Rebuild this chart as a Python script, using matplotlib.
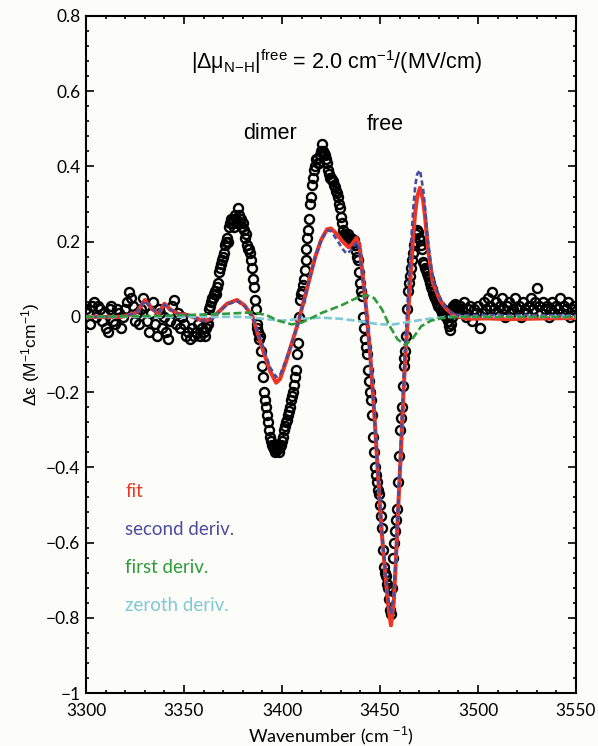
import numpy as np
import matplotlib.pyplot as plt
from matplotlib.ticker import MultipleLocator, FuncFormatter

plt.rcParams['font.family'] = ['Lato', 'DejaVu Sans']
plt.rcParams['mathtext.fontset'] = 'custom'
plt.rcParams['mathtext.rm'] = 'Liberation Sans'
plt.rcParams['mathtext.it'] = 'Liberation Sans:italic'

# measured spectrum (open circles)
wn_left = np.arange(3300, 3360, 1.0)
de_left = [0.02, 0.01, -0.02, 0.03, 0.04, 0.0, 0.03, 0.02, -0.01, 0.01,
           -0.03, -0.04, 0.02, 0.03, -0.01, -0.02, 0.02, 0.01, -0.03, 0.0,
           0.02, 0.04, 0.065, 0.05, 0.03, -0.01, 0.01, -0.02, 0.02, 0.05,
           0.03, -0.01, -0.04, 0.01, 0.04, -0.02, -0.05, 0.02, 0.01, -0.03,
           0.0, -0.04, -0.06, -0.01, 0.03, 0.045, -0.02, 0.01, -0.03, 0.0,
           -0.02, -0.05, -0.04, -0.06, -0.03, -0.05, -0.04, -0.02, -0.05, -0.03]

wn_mid = np.arange(3360, 3490, 0.5)
de_mid = [-0.04, -0.05, -0.03, -0.02, -0.02, 0.0, 0.02, 0.03, 0.04, 0.05,
          0.05, 0.06, 0.07, 0.06, 0.08, 0.09, 0.12, 0.13, 0.14, 0.15,
          0.16, 0.17, 0.19, 0.2, 0.21, 0.2, 0.24, 0.25, 0.26, 0.25,
          0.26, 0.24, 0.27, 0.26, 0.25, 0.29, 0.27, 0.25, 0.26, 0.24,
          0.25, 0.23, 0.21, 0.22, 0.19, 0.18, 0.18, 0.17, 0.15, 0.13,
          0.10, 0.08, 0.045, 0.02, -0.02, -0.03, -0.04, -0.06, -0.05, -0.09,
          -0.13, -0.16, -0.20, -0.22, -0.24, -0.26, -0.28, -0.30, -0.32, -0.33,
          -0.34, -0.345, -0.35, -0.36, -0.355, -0.34, -0.35, -0.36, -0.345, -0.34,
          -0.33, -0.32, -0.30, -0.29, -0.28, -0.275, -0.26, -0.25, -0.24, -0.22,
          -0.21, -0.2, -0.18, -0.16, -0.14, -0.10, -0.07, 0.0, 0.045, 0.06,
          0.07, 0.085, 0.1, 0.125, 0.15, 0.18, 0.21, 0.23, 0.26, 0.30,
          0.32, 0.35, 0.37, 0.39, 0.40, 0.42, 0.42, 0.41, 0.41, 0.43,
          0.44, 0.46, 0.44, 0.435, 0.43, 0.42, 0.41, 0.39, 0.38, 0.37,
          0.37, 0.365, 0.36, 0.35, 0.345, 0.335, 0.33, 0.32, 0.30, 0.29,
          0.265, 0.25, 0.23, 0.22, 0.22, 0.215, 0.21, 0.22, 0.21, 0.205,
          0.21, 0.205, 0.2, 0.205, 0.19, 0.19, 0.175, 0.16, 0.15, 0.12,
          0.09, 0.07, 0.055, 0.0, -0.03, -0.06, -0.08, -0.10, -0.14, -0.17,
          -0.2, -0.22, -0.26, -0.32, -0.36, -0.40, -0.42, -0.44, -0.46, -0.47,
          -0.50, -0.53, -0.56, -0.62, -0.665, -0.68, -0.69, -0.71, -0.72, -0.75,
          -0.78, -0.79, -0.72, -0.64, -0.60, -0.57, -0.54, -0.51, -0.44, -0.37,
          -0.30, -0.27, -0.24, -0.185, -0.13, -0.11, -0.09, -0.05, 0.02, 0.07,
          0.09, 0.11, 0.13, 0.15, 0.17, 0.19, 0.2, 0.22, 0.23, 0.225,
          0.21, 0.205, 0.19, 0.18, 0.145, 0.14, 0.13, 0.125, 0.117, 0.11,
          0.1, 0.09, 0.08, 0.075, 0.064, 0.055, 0.05, 0.045, 0.037, 0.03,
          0.025, 0.03, 0.018, 0.01, 0.02, 0.005, 0.01, 0.0, 0.005, -0.01,
          -0.025, -0.035, -0.02, 0.0, 0.01, 0.03, 0.02, 0.035, 0.03, 0.02]

wn_right = np.arange(3490, 3551, 1.0)
de_right = [0.01, 0.03, 0.02, 0.04, 0.0, 0.02, 0.03, -0.01, 0.02, 0.01,
            0.03, -0.03, 0.01, 0.04, 0.02, 0.05, 0.03, 0.066, 0.02, 0.04,
            0.01, 0.03, 0.05, 0.02, 0.0, 0.03, 0.04, 0.01, 0.02, 0.05,
            0.02, 0.03, 0.0, 0.04, 0.02, 0.01, 0.03, 0.05, 0.02, 0.04,
            0.077, 0.03, 0.01, 0.04, 0.02, 0.03, 0.0, 0.02, 0.04, 0.01,
            0.03, 0.02, 0.05, 0.01, 0.03, 0.02, 0.04, 0.0, 0.02, 0.03, 0.015]

# total fit
fit_x = [3300, 3318, 3322, 3326, 3330, 3334, 3337, 3340, 3343, 3347, 3352, 3357,
         3361, 3364, 3367, 3372, 3377, 3381, 3385, 3388, 3391, 3394, 3397, 3399,
         3402, 3405, 3408, 3411, 3414, 3417, 3420, 3423, 3425, 3428, 3431, 3434,
         3436, 3438, 3439.5, 3441, 3443, 3445, 3447, 3449, 3451, 3453, 3454.5,
         3455.6, 3457, 3458, 3459, 3460, 3461, 3462, 3463, 3464, 3465, 3466,
         3467, 3468, 3469, 3470.4, 3472, 3473, 3474.5, 3477, 3480.5, 3484, 3488,
         3495, 3505, 3515, 3525, 3535, 3550]
fit_y = [0.0, 0.0, 0.005, 0.012, 0.045, 0.02, 0.008, 0.035, 0.02, 0.008, 0.005, -0.005,
         -0.01, -0.005, 0.01, 0.035, 0.045, 0.03, 0.0, -0.05, -0.10, -0.145, -0.175, -0.165,
         -0.12, -0.07, -0.02, 0.04, 0.10, 0.16, 0.205, 0.233, 0.235, 0.22, 0.20, 0.185,
         0.195, 0.21, 0.19, 0.12, 0.02, -0.10, -0.25, -0.42, -0.58, -0.70, -0.78,
         -0.82, -0.76, -0.66, -0.54, -0.43, -0.32, -0.20, -0.10, -0.02, 0.06, 0.14,
         0.22, 0.28, 0.32, 0.343, 0.31, 0.266, 0.18, 0.09, 0.045, 0.02, 0.003,
         -0.005, -0.004, -0.006, -0.005, -0.004, -0.003]

# second derivative component
d2_x = [3300, 3318, 3322, 3326, 3330, 3334, 3337, 3340, 3343, 3347, 3352, 3357,
        3361, 3364, 3367, 3372, 3377, 3381, 3385, 3388, 3391, 3394, 3397, 3399,
        3402, 3405, 3408, 3411, 3414, 3417, 3420, 3423, 3425, 3428, 3431, 3433,
        3436, 3438, 3439.5, 3441, 3443, 3445, 3447, 3449, 3451, 3453, 3454.5,
        3455.6, 3457, 3458, 3459, 3460, 3461, 3462, 3463, 3464, 3465, 3466,
        3467, 3468, 3469, 3470.4, 3472, 3473, 3474.5, 3477, 3480.5, 3484, 3488,
        3495, 3505, 3515, 3525, 3535, 3550]
d2_y = [0.0, 0.0, 0.005, 0.012, 0.043, 0.02, 0.01, 0.033, 0.02, 0.008, 0.004, -0.006,
        -0.011, -0.006, 0.008, 0.033, 0.042, 0.028, 0.0, -0.045, -0.09, -0.135, -0.16, -0.155,
        -0.115, -0.07, -0.02, 0.04, 0.10, 0.16, 0.205, 0.23, 0.228, 0.205, 0.18, 0.168,
        0.18, 0.2, 0.18, 0.11, 0.01, -0.10, -0.25, -0.42, -0.57, -0.69, -0.76,
        -0.79, -0.74, -0.65, -0.53, -0.41, -0.29, -0.17, -0.06, 0.03, 0.12, 0.21,
        0.29, 0.35, 0.38, 0.39, 0.34, 0.29, 0.2, 0.1, 0.05, 0.022, 0.006,
        0.004, 0.005, 0.004, 0.005, 0.004, 0.004]

# first derivative component
d1_x = [3300, 3340, 3370, 3385, 3392, 3398, 3405, 3410, 3415, 3420, 3430, 3438,
        3443, 3447, 3451, 3455, 3459, 3463, 3467, 3471, 3476, 3482, 3490, 3550]
d1_y = [0.0, 0.003, 0.008, 0.012, 0.005, -0.01, -0.02, -0.015, -0.003, 0.01, 0.03, 0.05,
        0.058, 0.05, 0.02, -0.025, -0.06, -0.075, -0.055, -0.025, -0.01, -0.003, 0.0, 0.0]

# zeroth derivative component
d0_x = [3300, 3380, 3390, 3400, 3410, 3420, 3430, 3440, 3450, 3457, 3465, 3475, 3485, 3550]
d0_y = [0.0, 0.0, -0.005, -0.01, -0.005, -0.002, -0.005, -0.012, -0.02, -0.02, -0.013,
        -0.005, 0.0, 0.0]

fig = plt.figure(figsize=(5.98, 7.46), dpi=100, facecolor='#fcfcf8')
ax = fig.add_axes([0.1438, 0.0710, 0.8194, 0.9076])
ax.set_facecolor('#fcfcf8')

wn = np.concatenate([wn_left, wn_mid, wn_right])
de = np.concatenate([de_left, de_mid, de_right])
ax.plot(wn, de, 'o', mfc='none', mec='black', ms=6.5, mew=1.7, zorder=2)

red = '#ee3524'
blue = '#4b4c9e'
green = '#2f9a3e'
cyan = '#7fc9d5'
ax.plot(fit_x, fit_y, color=red, lw=2.9, zorder=3)
ax.plot(d2_x, d2_y, color=blue, lw=1.9, ls=(0, (2.0, 1.2)), zorder=4)
ax.plot(d0_x, d0_y, color=cyan, lw=1.9, ls=(0, (3.0, 1.3)), zorder=4)
ax.plot(d1_x, d1_y, color=green, lw=1.9, ls=(0, (3.0, 1.3)), zorder=5)

ax.set_xlim(3300, 3550)
ax.set_ylim(-1, 0.8)
ax.xaxis.set_major_locator(MultipleLocator(50))
ax.xaxis.set_minor_locator(MultipleLocator(10))
ax.yaxis.set_major_locator(MultipleLocator(0.2))
ax.yaxis.set_minor_locator(MultipleLocator(0.04))
ax.yaxis.set_major_formatter(FuncFormatter(lambda v, p: f"{round(v, 2):g}".replace('-', '\u2212')))
ax.tick_params(which='both', direction='in', top=True, right=True, labelsize=12.5, width=1.2)
ax.tick_params(which='major', length=5.5)
ax.tick_params(which='minor', length=2.5)
ax.tick_params(axis='x', pad=7)
ax.tick_params(axis='y', pad=4)
for s in ax.spines.values():
    s.set_linewidth(1.5)

ax.set_xlabel('Wavenumber (cm $^{-1}$)', fontsize=13, labelpad=4)
ax.set_ylabel('\u0394\u03b5 (M$^{-1}$cm$^{-1}$)', fontsize=12.5, family=['Liberation Sans'], labelpad=3)

ax.text(0.51, 0.932, '|\u0394\u03bc$_{\\rm N{-}H}$|$^{\\rm free}$ = 2.0 cm$^{-1}$/(MV/cm)',
        transform=ax.transAxes, ha='center', va='center', fontsize=15.5, family=['Liberation Sans'])
ax.text(0.376, 0.827, 'dimer', transform=ax.transAxes, ha='center', va='center',
        fontsize=15.5, family=['Liberation Sans'])
ax.text(0.61, 0.839, 'free', transform=ax.transAxes, ha='center', va='center',
        fontsize=15.5, family=['Liberation Sans'])

labels = ['fit', 'second deriv.', 'first deriv.', 'zeroth deriv.']
colors = [red, blue, green, cyan]
for i, (lab, c) in enumerate(zip(labels, colors)):
    ax.text(0.08, 0.297 - 0.056 * i, lab, color=c, fontsize=13.5, transform=ax.transAxes,
            ha='left', va='center')

fig.savefig('out.png', dpi=100, facecolor=fig.get_facecolor())
